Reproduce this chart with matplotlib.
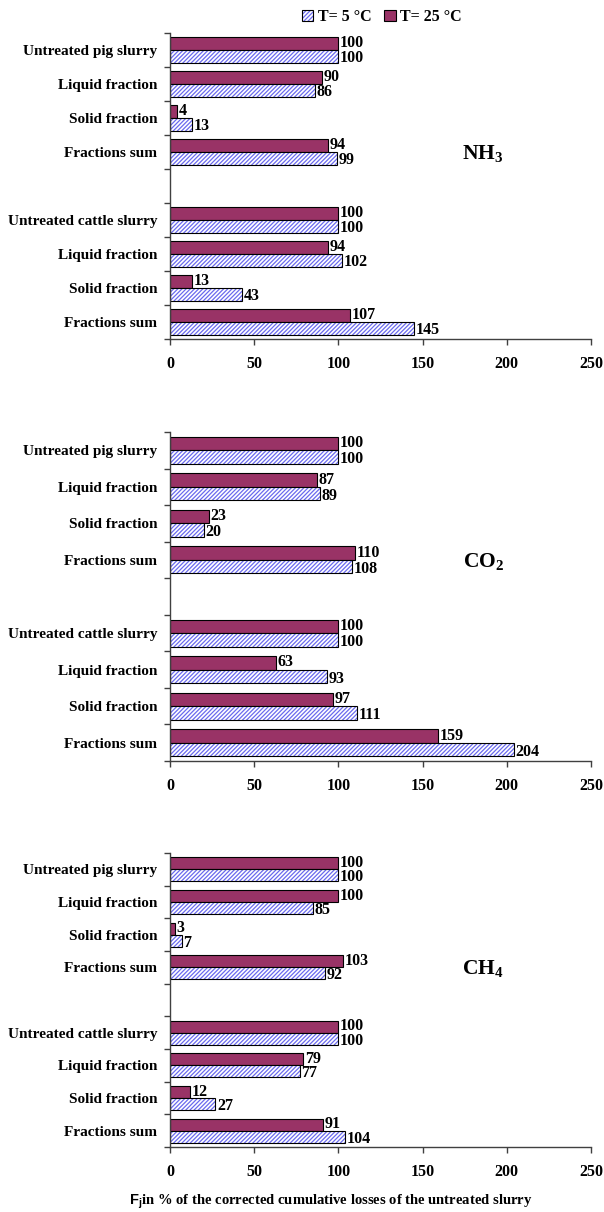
import matplotlib.pyplot as plt
from matplotlib.patches import Patch

plt.rcParams['font.family'] = 'Liberation Serif'
plt.rcParams['font.weight'] = 'bold'
plt.rcParams['mathtext.fontset'] = 'custom'
plt.rcParams['mathtext.rm'] = 'Liberation Serif:bold'
plt.rcParams['mathtext.sf'] = 'Liberation Sans'
plt.rcParams['hatch.linewidth'] = 0.9

# rows from top to bottom, slot 4 is the empty gap
rows = ['Untreated pig slurry', 'Liquid fraction', 'Solid fraction', 'Fractions sum',
        'Untreated cattle slurry', 'Liquid fraction', 'Solid fraction', 'Fractions sum']
slots = [0, 1, 2, 3, 5, 6, 7, 8]

gases = ['NH$_3$', 'CO$_2$', 'CH$_4$']

nh3_t25 = [100, 90, 4, 94, 100, 94, 13, 107]
nh3_t5 = [100, 86, 13, 99, 100, 102, 43, 145]
co2_t25 = [100, 87, 23, 110, 100, 63, 97, 159]
co2_t5 = [100, 89, 20, 108, 100, 93, 111, 204]
ch4_t25 = [100, 100, 3, 103, 100, 79, 12, 91]
ch4_t5 = [100, 85, 7, 92, 100, 77, 27, 104]

xticks = [0, 50, 100, 150, 200, 250]

maroon = '#993366'
hatch_col = '#6a6aee'
hatch = '////////'
W, H = 604, 1212

# axes boxes in pixels: top, bottom of each panel
boxes = [(33, 339), (432, 761), (853, 1147)]
left, right = 170, 591

fig = plt.figure(figsize=(6.04, 12.12), dpi=100)

panels = [(nh3_t25, nh3_t5), (co2_t25, co2_t5), (ch4_t25, ch4_t5)]
h = 0.37
for (top, bot), (t25, t5), gas in zip(boxes, panels, gases):
    ax = fig.add_axes([left / W, 1 - bot / H, (right - left) / W, (bot - top) / H])
    yc = [s + 0.5 for s in slots]
    y25 = [y - h / 2 for y in yc]
    y5 = [y + h / 2 for y in yc]
    ax.barh(y25, t25, height=h, color=maroon, edgecolor='black', linewidth=0.8)
    ax.barh(y5, t5, height=h, color='white', edgecolor=hatch_col, linewidth=0,
            hatch=hatch)
    ax.barh(y5, t5, height=h, color='none', edgecolor='black', linewidth=0.8)
    for y, v in zip(y25, t25):
        ax.text(v + 1.0, y - 0.01, str(v), va='center', ha='left', fontsize=11.5)
    for y, v in zip(y5, t5):
        ax.text(v + 1.0, y + 0.06, str(v), va='center', ha='left', fontsize=11.5)
    ax.text(186, 3.55, gas, fontsize=15.5, ha='center', va='center')

    ax.set_xlim(0, 250)
    ax.set_ylim(9, 0)
    ax.set_xticks(xticks)
    ax.set_xticklabels([str(t) for t in xticks], fontsize=11.5)
    ax.set_yticks(range(10))
    ax.set_yticklabels([])
    ax.set_yticks(yc, minor=True)
    ax.set_yticklabels(rows, minor=True, fontsize=11)
    ax.tick_params(axis='y', which='minor', length=0, pad=9)
    ax.tick_params(axis='both', which='major', direction='out', length=4,
                   width=1, color='#404040')
    ax.tick_params(axis='x', pad=8)
    for s in ['top', 'right']:
        ax.spines[s].set_visible(False)
    for s in ['left', 'bottom']:
        ax.spines[s].set_color('#404040')
        ax.spines[s].set_linewidth(1)

h5 = (Patch(facecolor='white', edgecolor=hatch_col, hatch=hatch, linewidth=0),
      Patch(facecolor='none', edgecolor='black', linewidth=0.8))
h25 = Patch(facecolor=maroon, edgecolor='black', linewidth=0.8)
fig.legend([h5, h25], ['T= 5 °C', 'T= 25 °C'], loc='center',
           bbox_to_anchor=(382 / W, 1 - 17 / H), ncol=2, frameon=False,
           fontsize=11.5, handlelength=0.7, handleheight=0.7,
           handletextpad=0.3, columnspacing=0.8)

fig.text(331 / W, 1 - 1202 / H,
         r'$\mathsf{F}_{\mathsf{j}}$in % of the corrected cumulative losses of the untreated slurry',
         ha='center', va='center', fontsize=10.5)

fig.savefig('out.png', dpi=100)
